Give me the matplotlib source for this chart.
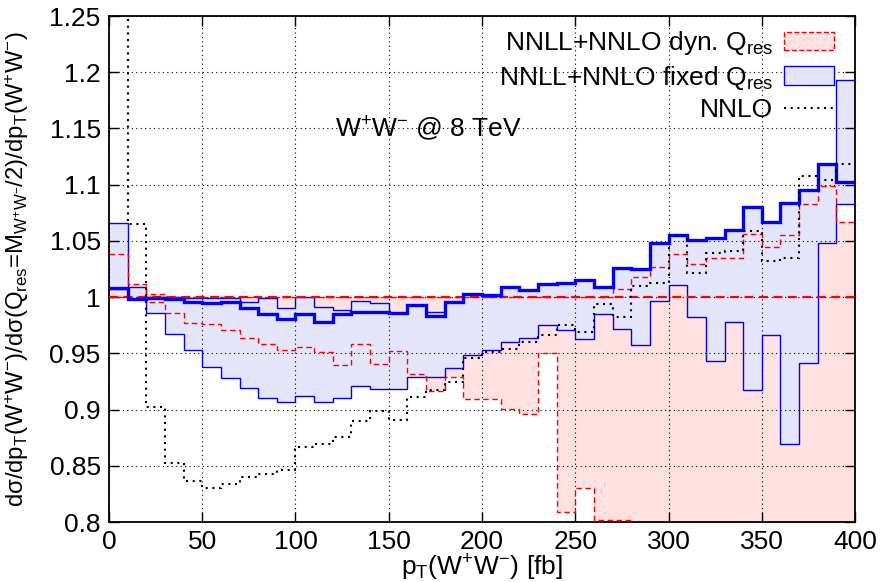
import matplotlib
matplotlib.use("Agg")
import matplotlib.pyplot as plt
from matplotlib.patches import Patch
from matplotlib.lines import Line2D
import numpy as np

plt.rcParams['font.family'] = ['Liberation Sans', 'DejaVu Sans']
plt.rcParams['mathtext.default'] = 'regular'

# ---- data (bins of 10 GeV from 0 to 400) ----
bin_edges = list(range(0, 410, 10))

fixed_central = [1.008, 0.998, 0.999, 0.998, 0.996, 0.995, 0.996, 0.990, 0.985, 0.981,
                 0.985, 0.978, 0.985, 0.9864, 0.9864, 0.986, 0.993, 0.983, 0.996, 1.003,
                 1.0015, 1.009, 1.0065, 1.012, 1.013, 1.015, 1.009, 1.026, 1.025, 1.048,
                 1.055, 1.0506, 1.053, 1.060, 1.080, 1.067, 1.084, 1.095, 1.118, 1.102]

fixed_upper = [1.066, 1.009, 1.000, 1.000, 0.999, 0.999, 0.999, 0.996, 0.999, 0.990,
               1.000, 0.991, 0.989, 0.997, 0.995, 0.986, 0.993, 0.987, 0.996, 1.003,
               1.0015, 1.009, 1.0065, 1.012, 1.013, 1.015, 1.009, 1.026, 1.025, 1.048,
               1.055, 1.0506, 1.053, 1.060, 1.080, 1.067, 1.084, 1.095, 1.118, 1.193]

fixed_lower = [1.0075, 0.998, 0.986, 0.9676, 0.9534, 0.938, 0.9277, 0.9195, 0.910, 0.907,
               0.912, 0.907, 0.910, 0.921, 0.9186, 0.918, 0.929, 0.929, 0.937, 0.9485,
               0.953, 0.960, 0.964, 0.975, 0.971, 0.963, 0.985, 0.972, 0.957, 0.997,
               1.011, 0.982, 0.943, 0.978, 0.917, 0.966, 0.869, 0.941, 1.048, 1.083]

dyn_central = [1.0] * 40

dyn_upper = [1.038, 1.012, 1.003, 1.0, 1.0, 1.0, 1.0, 1.0, 1.0, 1.0,
             1.0, 1.0, 1.0, 1.0, 1.0, 1.0, 1.0, 1.0, 1.0, 1.0,
             1.0, 1.0, 1.0, 1.0, 1.0, 1.0, 1.0, 1.0074, 1.018, 1.0266,
             1.038, 1.0296, 1.0346, 1.0346, 1.056, 1.045, 1.055, 1.083, 1.099, 1.067]

dyn_lower = [1.0, 1.0, 0.9956, 0.986, 0.977, 0.9764, 0.9705, 0.964, 0.958, 0.953,
             0.9558, 0.951, 0.940, 0.9587, 0.9407, 0.9522, 0.9316, 0.9165, 0.929, 0.909,
             0.909, 0.9006, 0.896, 0.9506, 0.809, 0.8306, 0.802, 0.802, 0.75, 0.75,
             0.75, 0.75, 0.75, 0.75, 0.75, 0.75, 0.75, 0.75, 0.75, 0.75]

nnlo = [1.30, 1.065, 0.9027, 0.8528, 0.8369, 0.830, 0.834, 0.840, 0.8428, 0.8463,
        0.8664, 0.8693, 0.876, 0.890, 0.8988, 0.8909, 0.9115, 0.917, 0.9248, 0.9456,
        0.951, 0.954, 0.960, 0.966, 0.975, 0.969, 0.994, 0.9825, 1.0098, 1.013,
        1.0544, 1.0216, 1.039, 1.041, 1.059, 1.032, 1.0346, 1.108, 1.104, 1.118]

x_ticks = [0, 50, 100, 150, 200, 250, 300, 350, 400]
y_ticks = [0.8, 0.85, 0.9, 0.95, 1.0, 1.05, 1.1, 1.15, 1.2, 1.25]
y_tick_labels = ['0.8', '0.85', '0.9', '0.95', '1', '1.05', '1.1', '1.15', '1.2', '1.25']

labels = ['NNLL+NNLO dyn. Q$_{res}$', 'NNLL+NNLO fixed Q$_{res}$', 'NNLO']

# ---- styles ----
PINK = '#FFE1E1'
LAV = '#E4E4FA'
RED = '#FF0000'
BLUE = '#0000FF'
FS = 19

fig = plt.figure(figsize=(8.83, 5.82), dpi=100)
ax = fig.add_axes([0.1234, 0.103, 0.845, 0.8695])

edges = np.array(bin_edges, dtype=float)

# bands
ax.stairs(dyn_upper, edges, baseline=dyn_lower, fill=True, color=PINK, lw=0, zorder=1)
ax.stairs(fixed_upper, edges, baseline=fixed_lower, fill=True, color=LAV, lw=0, zorder=1.1)

# band edges
ax.stairs(fixed_upper, edges, baseline=None, color=BLUE, lw=1.0, zorder=3)
ax.stairs(fixed_lower, edges, baseline=None, color=BLUE, lw=1.0, zorder=3)
ax.stairs(dyn_upper, edges, baseline=None, color=RED, lw=1.0, ls=(0, (4, 2.5)), zorder=3.2)
ax.stairs(dyn_lower, edges, baseline=None, color=RED, lw=1.0, ls=(0, (4, 2.5)), zorder=3.2)

# central curves
ax.stairs(dyn_central, edges, baseline=None, color=RED, lw=1.6, ls=(0, (4, 2.5)), zorder=3.5)
ax.stairs(fixed_central, edges, baseline=None, color=BLUE, lw=2.4, zorder=4)
ax.stairs(nnlo, edges, baseline=None, color='black', lw=1.5, ls=(0, (1, 2.2)), zorder=4.5)

ax.set_xlim(0, 400)
ax.set_ylim(0.8, 1.25)
ax.set_xticks(x_ticks)
ax.set_xticklabels([str(t) for t in x_ticks])
ax.set_yticks(y_ticks)
ax.set_yticklabels(y_tick_labels)
ax.tick_params(direction='in', top=True, right=True, length=7, width=1,
               labelsize=FS, pad=6)
ax.set_axisbelow(False)
ax.grid(True, color='black', lw=0.8, ls=(0, (1, 3)))
for s in ax.spines.values():
    s.set_linewidth(1.3)

ax.set_xlabel('p$_T$($W^{+}W^{-}$) [fb]', fontsize=FS, labelpad=-1)
ax.set_ylabel('dσ/dp$_T$($W^{+}W^{-}$)/dσ(Q$_{res}$=M$_{W^{+}W^{-}}$/2)/dp$_T$($W^{+}W^{-}$)',
              fontsize=17.2, labelpad=3)
ax.yaxis.set_label_coords(-0.105, 0.5)

ax.text(121, 1.15, '$W^{+}W^{-}$ @ 8 TeV', fontsize=FS, ha='left', va='center')

handles = [Patch(facecolor=PINK, edgecolor=RED, linestyle='--', lw=1.0),
           Patch(facecolor=LAV, edgecolor=BLUE, lw=1.0),
           Line2D([], [], color='black', lw=1.5, ls=(0, (1, 2.2)))]
leg = ax.legend(handles, labels, loc='upper right', bbox_to_anchor=(0.989, 1.0),
                frameon=False, markerfirst=False,
                fontsize=FS, handlelength=1.9, handleheight=0.7, labelspacing=0.25,
                borderaxespad=0.1, handletextpad=0.4)
leg.set_zorder(10)

fig.savefig('out.png', dpi=100)
